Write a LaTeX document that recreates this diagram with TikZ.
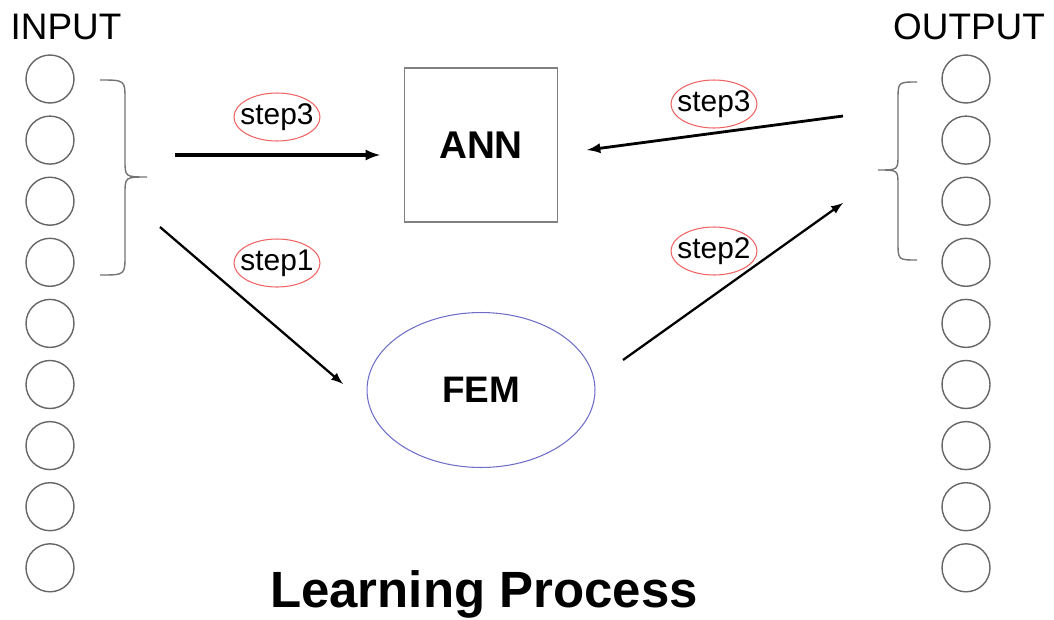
\documentclass[tikz,border=0pt]{standalone}
\usepackage{fontspec}
\setmainfont{Liberation Sans}
\usetikzlibrary{shapes,arrows,calc,positioning}

\definecolor{femblue}{RGB}{110,110,200}
\definecolor{stepred}{RGB}{240,100,100}

\tikzset{
neuron/.style={circle,draw=black!60,line width=0.8pt,minimum size=0.96cm,inner sep=0},
bracket/.style={draw=black!55,line width=0.8pt},
stepmark/.style={font=\fontsize{17}{17}\selectfont,inner sep=0},
arr/.style={-latex,line width=1.3pt},
}

\begin{document}
\begin{tikzpicture}[x=0.02cm,y=-0.02cm]
\useasboundingbox (0,0) rectangle (1054,619);

% Neuronok
\foreach \ii in {1,...,9}{
\node[neuron] (in\ii) at (50,{79+(\ii-1)*61.1}) {};
\node[neuron] (out\ii) at (966,{79+(\ii-1)*61.1}) {};
}

% Feliratok
\node[font=\fontsize{21}{21}\selectfont] (inlab) at (66,27) {INPUT};
\node[font=\fontsize{21}{21}\selectfont] (outlab) at (969,27) {OUTPUT};
\node[font=\fontsize{29}{29}\selectfont\bfseries] (title) at (484,594) {Learning Process};

% ANN doboz es FEM ellipszis
\node[draw=black!50,line width=0.9pt,minimum width=3.06cm,minimum height=3.08cm,font=\fontsize{22}{22}\selectfont\bfseries] (ann) at (481,145) {ANN};
\node[ellipse,draw=femblue,line width=0.6pt,minimum width=4.56cm,minimum height=3.1cm,font=\fontsize{21}{21}\selectfont\bfseries] (fem) at (481,390) {FEM};

% Kapcsos zarojelek
\draw[bracket] (100,80) .. controls (125,80) .. (125,100) -- (125,160) .. controls (125,177) .. (147,177) coordinate (lbt) .. controls (125,177) .. (125,194) -- (125,255) .. controls (125,275) .. (100,275);
\draw[bracket] (917,82) .. controls (898,82) .. (898,100) -- (898,155) .. controls (898,170) .. (878,170) coordinate (rbt) .. controls (898,170) .. (898,185) -- (898,242) .. controls (898,260) .. (917,260);

% Nyilak vegpontjai
\coordinate (s3a) at (175,155); \coordinate (s3b) at (380,155);
\coordinate (s1a) at (160,227); \coordinate (s1b) at (343,384);
\coordinate (s2a) at (623,360); \coordinate (s2b) at (843,203);
\coordinate (s4a) at (843,116); \coordinate (s4b) at (587,150);

% Lepes feliratok
\node[stepmark] (st3a) at (277,117) {step3};
\node[stepmark] (st1) at (277,263) {step1};
\node[stepmark] (st3b) at (714,104) {step3};
\node[stepmark] (st2) at (714,251) {step2};
\foreach \nn in {st3a,st1,st3b,st2}{
\draw[stepred,line width=0.6pt] (\nn) ellipse [x radius=0.86cm,y radius=0.48cm];
}

% Nyilak
\draw[arr,line width=1.8pt] (s3a) -- (s3b);
\draw[arr] (s1a) -- (s1b);
\draw[arr] (s2a) -- (s2b);
\draw[arr,line width=1.6pt] (s4a) -- (s4b);

\end{tikzpicture}
\end{document}
